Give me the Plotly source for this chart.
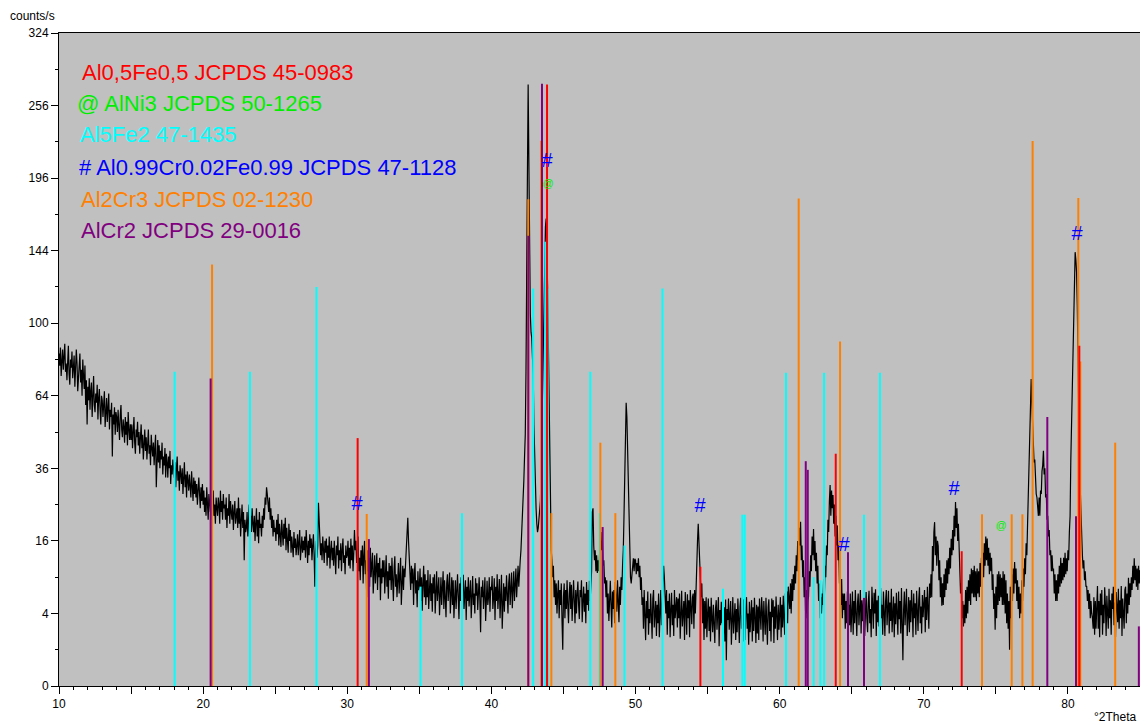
import numpy as np
import plotly.graph_objects as go

# ---------------- measured pattern (counts/s), 2Theta step 0.05 deg from 10.00 ----------------
cps_10_15 = [84, 78, 87, 73, 80, 86, 76, 82, 89, 75,
             79, 71, 83, 88, 74, 69, 81, 77, 85, 72,
             77, 83, 68, 74, 86, 79, 66, 72, 80, 84,
             70, 76, 64, 81, 73, 67, 78, 60, 71, 52,
             68, 62, 72, 58, 66, 70, 55, 64, 73, 60,
             57, 65, 61, 69, 54, 63, 67, 58, 52, 64,
             62, 55, 59, 66, 51, 57, 63, 53, 60, 65,
             50, 58, 55, 61, 40, 56, 52, 59, 48, 57,
             55, 49, 58, 52, 46, 56, 60, 50, 47, 54,
             51, 45, 55, 48, 53, 44, 57, 50, 46, 52]
cps_15_20 = [46, 52, 43, 49, 55, 45, 41, 50, 47, 53,
             44, 49, 41, 47, 52, 43, 48, 39, 46, 50,
             42, 47, 39, 45, 50, 41, 44, 37, 48, 43,
             40, 45, 37, 43, 48, 30, 41, 46, 38, 44,
             36, 42, 39, 45, 34, 40, 37, 43, 33, 41,
             38, 33, 40, 36, 42, 31, 37, 34, 39, 35,
             33, 38, 30, 36, 40, 32, 35, 29, 37, 34,
             31, 36, 28, 33, 38, 30, 34, 27, 35, 32,
             29, 34, 31, 27, 35, 30, 26, 33, 28, 32,
             27, 31, 25, 29, 33, 28, 24, 30, 26, 31]
cps_20_25 = [25, 29, 23, 27, 22, 30, 24, 21, 28, 26,
             23, 28, 21, 26, 29, 22, 25, 20, 27, 24,
             22, 27, 25, 20, 29, 23, 26, 21, 28, 24,
             25, 21, 27, 19, 24, 22, 28, 20, 26, 23,
             21, 25, 18.5, 23, 26, 20, 22, 24, 19, 27,
             20, 24, 17, 22, 25, 19, 23, 12, 21, 18,
             19, 23, 17, 21, 25, 16, 22, 18, 24, 20,
             18, 22, 16, 20, 24, 17, 21, 15.5, 23, 19,
             20, 17, 22, 19, 24, 21, 27, 25, 30, 28,
             26, 23, 27, 21, 24, 19, 22, 17, 21, 18]
cps_25_30 = [19, 16, 21, 17.5, 22.5, 15, 20, 17, 14.7, 21,
             18, 15, 20, 16.5, 21.5, 14, 19, 17, 13.5, 20,
             16, 18.5, 13.5, 17, 15, 12.6, 18, 14.5, 16.5, 13,
             15, 17.5, 13, 16, 18.5, 12, 15.5, 17, 13.5, 16,
             14, 17, 12.5, 18.5, 15, 11.5, 16, 13, 17.5, 14.5,
             16.5, 12, 15, 17.5, 13, 7.5, 14, 16, 12.5, 15,
             25.5, 19, 16, 13, 15.5, 12, 17, 14, 11.5, 16,
             13.5, 16.5, 11, 15, 12.5, 17, 10.5, 14, 16, 12,
             14.5, 11, 16, 12.5, 9.5, 15, 13, 17, 10.5, 14,
             12, 15.5, 10, 14, 16.5, 11.5, 13, 9.5, 15, 12.5]
cps_30_35 = [13, 16, 11, 14.5, 10.5, 16.5, 12, 15, 10, 13.5,
             18.5, 14, 16, 11.5, 13, 17, 10, 12.5, 8.5, 14,
             11, 15, 8, 13, 16, 9.5, 12, 6, 14, 10,
             12.5, 7.5, 14.5, 9, 11, 13.5, 6.5, 10, 13, 8,
             10, 13.4, 7, 11.5, 9, 12.5, 5.6, 10.5, 8, 12,
             9, 12, 6.5, 11, 13, 7.5, 10, 5.8, 11.5, 8.5,
             11, 7, 12.5, 8.5, 5.5, 10.5, 12.8, 7.5, 9.5, 6,
             8.5, 11.5, 6.5, 10, 12.5, 5, 9, 11, 7, 10.5,
             9, 12, 14, 18, 21.5, 16, 12.5, 10, 7, 11,
             8, 10.5, 5, 9.5, 11.5, 6.5, 8.5, 4.7, 10, 7]
cps_35_40 = [7.5, 10.5, 5.5, 9, 4.3, 8, 11, 6, 9.5, 5,
             8.5, 6, 10.2, 4.5, 7.5, 9.5, 5.5, 8, 4.2, 9,
             6.5, 9.5, 4, 8, 10, 5.5, 7, 9, 3.8, 7.5,
             9, 5, 7.5, 10, 4.5, 8.5, 6, 3.6, 8, 9.5,
             5.5, 8, 9.8, 4, 7, 9, 5, 8.5, 3.5, 7.5,
             8.5, 4.5, 7, 9.5, 6, 3.4, 8, 5.5, 9, 6.5,
             7, 9.4, 4.5, 6.5, 8.5, 3.3, 7.5, 5.5, 9, 4.8,
             6, 8.5, 3.5, 7.5, 9.2, 5, 6.5, 4, 8.8, 6.2,
             8, 4.4, 7, 9, 5.5, 2.2, 7.5, 6, 8.5, 4.5,
             6.5, 9, 3.2, 7, 8.4, 5, 6, 9, 4.2, 7.5]
cps_40_45 = [7, 9.2, 4.5, 6, 8.8, 3.3, 7.5, 5.5, 9.5, 4.5,
             6.5, 8.7, 3.5, 7, 9.4, 2.5, 6, 8, 4.2, 7.5,
             5.5, 9.3, 6.5, 4, 8, 9.6, 5, 7.5, 9.8, 4.6,
             7, 10, 5.5, 8.5, 10.5, 6, 9, 11, 7.5, 11.7,
             12, 14, 17, 21, 26, 32, 40, 48, 75, 110,
             200, 275, 190, 140, 105, 95, 92, 82, 74, 52,
             38, 30, 24, 20, 18, 19, 22, 24, 26, 35,
             50, 56, 85, 120, 140, 160, 166, 150, 120, 90,
             62, 40, 22, 14, 12, 9, 11, 6, 8.5, 5,
             8, 4, 6.5, 8.5, 3.5, 7, 5, 8, 3.2, 1]
cps_45_50 = [6, 8, 3.5, 7, 4.5, 8.5, 5, 3, 6.5, 8.2,
             4.5, 7.8, 3.2, 6, 8.5, 5.5, 3, 7, 4, 6.5,
             8.3, 5, 3.4, 7, 6, 8.5, 3.1, 5.5, 7.5, 4.2,
             6.5, 3, 8.2, 5, 7, 4.3, 8.4, 5.5, 9, 10,
             23, 24, 15, 12, 14, 10, 13, 9.7, 12, 10,
             13, 16, 18, 14, 16, 11, 12, 8, 9, 6,
             8.5, 4, 6.5, 3.2, 7, 8.4, 5, 2.6, 6.8, 4.5,
             7, 3, 8.2, 5.5, 4.2, 8.5, 6, 3.1, 7.5, 5,
             9, 7, 11, 14, 22, 35, 52, 61, 55, 42,
             28, 18, 12, 9, 8, 10, 11.5, 12.4, 10, 12.3]
cps_50_55 = [12, 9.5, 11.5, 10, 12.4, 9, 11, 7, 9, 5,
             6, 2.5, 7, 4, 1.6, 5.5, 3.5, 6.8, 2, 4.5,
             3, 6.5, 4.5, 1.7, 5.8, 7, 2.6, 4, 5.5, 1.9,
             5, 3, 6.5, 1.8, 4.5, 7, 2.8, 6, 9, 11,
             9, 6, 4, 7, 2, 5.5, 3.5, 6.5, 1.8, 4.5,
             6.6, 2.8, 5, 1.9, 7, 3.5, 4.5, 6, 2.6, 5.8,
             3.5, 6.5, 1.7, 5, 6.9, 2.7, 4, 5.5, 1.6, 6.7,
             4.5, 2, 6.4, 3.5, 5.6, 1.8, 7, 4, 2.9, 6,
             6.5, 2.5, 7, 4, 9, 11, 16, 20, 15, 12,
             10, 6, 8, 3, 5.8, 1.6, 5.5, 2.5, 6, 1.8]
cps_55_60 = [4, 5.8, 2.3, 4.8, 1.5, 5.9, 3.5, 2.2, 5, 3,
             1.4, 4.6, 5.6, 2.4, 3.5, 6, 1.2, 4.4, 2.8, 5.4,
             3, 5.9, 2, 4.7, 1.5, 5.7, 0.5, 4.5, 3.3, 5.8,
             2.4, 4, 5.5, 1.3, 3.6, 6, 2.1, 4.6, 5.2, 1.6,
             4.5, 2.2, 5.8, 3.4, 1.4, 4.8, 5.9, 2.5, 3.8, 1.5,
             5.7, 3, 1.6, 4.6, 6, 2.5, 4, 1.3, 5.4, 2.2,
             3.2, 5.6, 1.5, 4.7, 2.3, 5.9, 3.6, 1.4, 5, 2.1,
             4.8, 1.6, 5.8, 3, 2.4, 6, 4.2, 1.5, 5.5, 3.4,
             2, 5.9, 3.5, 1.3, 4.7, 5.7, 2.3, 4.2, 1.5, 5.8,
             3.6, 5.6, 1.4, 4.8, 2.5, 6.1, 3.8, 1.6, 5, 2.4]
cps_60_65 = [4, 6, 1.8, 5, 2.6, 6.2, 3.5, 2, 6.5, 4.5,
             6.8, 3, 7.5, 5, 4.5, 8, 4, 8.7, 5.5, 9.5,
             7, 11, 8, 13, 10, 16, 12, 19, 15, 20.5,
             12, 15, 9, 12, 6, 9, 4, 7, 3.5, 5.5,
             6, 10, 7.5, 13, 10, 17, 13, 18.7, 12, 16,
             10, 13.5, 8, 11, 5.5, 8, 3.5, 6, 4, 6.5,
             5, 8.7, 6, 11, 9, 15, 13, 21, 18, 26,
             30.7, 22, 29, 24, 27.7, 20, 25, 17, 22, 15,
             19.6, 12, 15, 8, 10, 5, 8.7, 3.5, 6.5, 4.4,
             6.5, 2.5, 5.5, 3, 6.8, 2, 5, 2.8, 6.5, 2.2]
cps_65_70 = [4.5, 6.8, 2, 5.5, 3, 7, 4, 1.9, 5.2, 6.5,
             2.8, 4.5, 7, 2.1, 5.6, 3.2, 6, 7.2, 1.9, 4.8,
             6.7, 3.5, 2.2, 5.4, 6.9, 3, 4.5, 1.8, 7.5, 5,
             2.5, 6.6, 4, 7.1, 1.9, 5.6, 3.1, 6.2, 2.7, 4.6,
             7.3, 3.5, 5, 2, 6.8, 4.2, 1.9, 5.5, 7, 2.8,
             4.5, 6.9, 2.1, 5.3, 3.2, 7.2, 2.2, 4.8, 6.1, 1.8,
             5.2, 2.9, 6.6, 4, 2, 6.8, 3.4, 5.5, 2.1, 7.3,
             3, 0.5, 4.5, 6.8, 2.8, 5.4, 7.2, 1.9, 4.2, 6,
             2.2, 5.6, 3.1, 7, 4.5, 1.8, 6.5, 3.5, 5.2, 2,
             6.9, 4, 2.3, 5.7, 7.4, 3, 4.8, 2.1, 6.3, 3.6]
cps_70_75 = [5, 7, 2.2, 6, 3.3, 7.5, 4.5, 2.5, 8, 5.9,
             9.5, 6, 14.9, 10, 18, 20.4, 13, 17, 11, 16,
             14.9, 8.5, 12, 6, 9, 4.9, 8, 5, 9.5, 6,
             10.5, 7, 12, 8, 12.4, 9.5, 14.5, 10.5, 16.5, 13,
             18.5, 14, 22, 17, 25.7, 19, 24, 16, 20, 13,
             12, 6.5, 8, 3.5, 5.5, 2.7, 5, 3, 7, 3.5,
             7.5, 4, 8.5, 5.5, 9.5, 5, 10.5, 6.5, 10.2, 6,
             11, 6, 10, 5.5, 10.5, 6.5, 10, 6, 11.5, 7.5,
             12.5, 8, 13.5, 9, 15.5, 11, 17, 12, 16.5, 11,
             14.5, 9.5, 13.5, 10, 12.5, 7, 9.5, 4.5, 6.5, 2.4]
cps_75_80 = [7.5, 3.5, 9.5, 5, 10, 5.5, 9.5, 6, 8.9, 5,
             10, 5, 9.5, 4, 8.5, 3, 6.5, 2.5, 5.5, 1,
             7.5, 3.5, 9.5, 5.5, 10.5, 6.5, 11.7, 8, 10.5, 5.5,
             8.5, 4.5, 7.5, 3.5, 6.5, 4, 8.5, 5.5, 10.5, 7.5,
             12.4, 9.5, 15.5, 13, 20, 26.9, 33, 48, 60, 71.6,
             60, 50, 47, 38, 39, 29, 28, 27, 25, 22,
             27, 22, 29, 28, 35, 37, 42, 34, 36, 27,
             28, 21, 22, 17, 18.5, 13, 14, 10, 13, 10,
             10.5, 6.5, 9.5, 5.5, 8.5, 5.5, 9.5, 6.5, 11, 7.5,
             12.5, 8, 11.5, 8.5, 12.5, 9, 13.5, 9.5, 12.4, 10]
cps_80_85 = [14, 12, 18, 22, 39, 50, 62, 75, 95, 120,
             143, 138, 130, 110, 71.6, 55, 37.9, 30, 22, 17,
             13.2, 10.5, 12, 8.5, 10, 7.5, 7.6, 5.5, 7, 4.5,
             6.5, 3.5, 5.5, 4, 3.5, 2.5, 6, 2, 5.5, 2.5,
             4.5, 7.6, 2.5, 5.5, 1.8, 6.5, 3.8, 7, 2, 5,
             3, 7.4, 5, 1.9, 6.2, 4, 2.5, 7.2, 3.5, 5.6,
             2, 6.5, 4.5, 7.5, 2.8, 5.3, 1.8, 6.7, 4, 3.1,
             7.2, 2.5, 5.6, 3.5, 7.6, 1.9, 5.8, 4, 2.5, 7,
             7.5, 3, 6.5, 4, 8.9, 5, 8, 6, 9, 7,
             11, 8, 12.4, 8.5, 11, 7.5, 10.5, 7, 11, 8,
             10.2]

# ---------------- reference patterns (stick positions and intensities, counts/s) ----------------
red_pos = [30.72, 43.86, 54.50, 63.89, 72.63, 80.79]
red_int = [46.7, 275, 10.8, 41, 13.8, 88]
cyan_pos = [18.02, 23.25, 27.86, 35.08, 37.96, 42.90, 43.74, 43.90, 46.86, 47.51, 49.23,
            51.87, 56.07, 57.41, 57.57, 60.44, 62.36, 62.82, 63.08, 65.85, 66.96]
cyan_int = [75, 75, 121, 7.5, 22.7, 120, 150, 120, 75, 22.7, 15,
            120, 7.2, 22.3, 22.3, 74.5, 9, 8.5, 74.5, 22.3, 74.5]
orange_pos = [20.62, 31.35, 42.56, 43.44, 44.16, 47.56, 48.60, 61.32, 64.19, 74.04,
              76.10, 76.84, 77.55, 80.72, 80.86, 83.28]
orange_int = [135, 22.5, 180, 226, 22.7, 45, 22.7, 180.6, 90.2, 22.4,
              22.4, 22.4, 225.7, 181, 80, 45]
purple_pos = [20.52, 31.50, 42.56, 43.51, 47.72, 61.81, 61.95, 64.74, 65.85, 78.57, 80.56, 84.92]
purple_int = [71.9, 16.4, 154, 275.6, 19.2, 38.4, 35.5, 13.6, 5.9, 55, 21.9, 2.7]

hash_pos = [30.68, 43.86, 54.47, 64.46, 72.10, 80.63]
hash_cps = [24.9, 208.5, 24.3, 14.9, 29.2, 154.5]
at_pos = [43.93, 75.36]
at_cps = [191.5, 19.4]

legend_texts = ["Al0,5Fe0,5 JCPDS 45-0983", "@ AlNi3 JCPDS 50-1265", "Al5Fe2 47-1435",
                "# Al0.99Cr0.02Fe0.99 JCPDS 47-1128", "Al2Cr3 JCPDS 02-1230", "AlCr2 JCPDS 29-0016"]
legend_colors = ["#FF0000", "#00EE00", "#00FFFF", "#0000FF", "#FF8000", "#800080"]

y_tick_labels = [0, 4, 16, 36, 64, 100, 144, 196, 256, 324]
y_minor_labels = [1, 9, 25, 49, 81, 121, 169, 225, 289]
x_tick_vals = [10, 15, 20, 25, 30, 35, 40, 45, 50, 55, 60, 65, 70, 75, 80, 85]
x_tick_text = ["10", "", "20", "", "30", "", "40", "", "50", "", "60", "", "70", "", "80", ""]

# ---------------- figure ----------------
counts = (cps_10_15 + cps_15_20 + cps_20_25 + cps_25_30 + cps_30_35 + cps_35_40 + cps_40_45
          + cps_45_50 + cps_50_55 + cps_55_60 + cps_60_65 + cps_65_70 + cps_70_75 + cps_75_80
          + cps_80_85)
two_theta = np.round(10.0 + 0.05 * np.arange(len(counts)), 3)
sq = np.sqrt(np.array(counts, dtype=float))   # square-root intensity scale

FONT = "Liberation Sans, Arial, sans-serif"
fig = go.Figure()
fig.add_trace(go.Scatter(x=two_theta, y=sq, mode="lines",
                         line=dict(color="black", width=1.2), hoverinfo="skip"))


def sticks(pos, inten, color):
    xs, ys = [], []
    for p, v in zip(pos, inten):
        xs += [p, p, None]
        ys += [0, float(np.sqrt(v)), None]
    fig.add_trace(go.Scatter(x=xs, y=ys, mode="lines",
                             line=dict(color=color, width=2), hoverinfo="skip"))


sticks(cyan_pos, cyan_int, "#00FFFF")
sticks(orange_pos, orange_int, "#FF8000")
sticks(purple_pos, purple_int, "#800080")
sticks(red_pos, red_int, "#FF0000")

fig.add_trace(go.Scatter(x=hash_pos, y=np.sqrt(hash_cps), mode="text", text=["#"] * len(hash_pos),
                         textposition="middle center",
                         textfont=dict(family=FONT, size=20, color="#0000FF")))
fig.add_trace(go.Scatter(x=at_pos, y=np.sqrt(at_cps), mode="text", text=["@"] * len(at_pos),
                         textposition="middle center",
                         textfont=dict(family=FONT, size=11, color="#00EE00")))

# The page body has an 8 px margin, so the figure is drawn 8 px in from the window corner.
OFF = 8
FIG_W, FIG_H = 1148 - OFF, 725 - OFF
L, T, W, H = 59 - OFF, 33 - OFF, 1081, 653     # plot area in figure pixels

leg_left_px = [80, 75, 78, 77, 79, 79]
leg_mid_px = [73, 104, 134, 167, 200, 231]
for txt, col, lx, ly in zip(legend_texts, legend_colors, leg_left_px, leg_mid_px):
    fig.add_annotation(xref="paper", yref="paper", x=(lx - OFF - L) / W, y=(T + H - (ly - OFF)) / H,
                       text=txt, showarrow=False, xanchor="left", yanchor="middle",
                       font=dict(family=FONT, size=22, color=col))

fig.add_annotation(xref="paper", yref="paper", x=(8 - OFF - L) / W, y=(T + H - (16 - OFF)) / H,
                   text="counts/s", showarrow=False, xanchor="left", yanchor="middle",
                   font=dict(family=FONT, size=12, color="black"))
fig.add_annotation(xref="paper", yref="paper", x=(1138 - OFF - L) / W, y=(T + H - (717 - OFF)) / H,
                   text="°2Theta", showarrow=False, xanchor="right", yanchor="middle",
                   font=dict(family=FONT, size=12, color="black"))

fig.update_layout(
    width=FIG_W, height=FIG_H, autosize=False,
    margin=dict(l=L, r=FIG_W - L - W, t=T, b=FIG_H - T - H),
    paper_bgcolor="white", plot_bgcolor="#C0C0C0",
    showlegend=False,
    font=dict(family=FONT, size=12, color="black"),
)
fig.update_xaxes(range=[10, 85], tickmode="array", tickvals=x_tick_vals, ticktext=x_tick_text,
                 ticks="outside", ticklen=7, tickwidth=1, tickcolor="black",
                 minor=dict(tickmode="linear", tick0=10, dtick=1, ticks="outside", ticklen=3,
                            tickcolor="black", showgrid=False),
                 showgrid=False, zeroline=False, showline=True, linecolor="black",
                 linewidth=1, mirror=True, tickfont=dict(size=12))
fig.update_yaxes(range=[0, 18], tickmode="array", tickvals=np.sqrt(y_tick_labels),
                 ticktext=[str(v) for v in y_tick_labels],
                 ticks="outside", ticklen=7, tickwidth=1, tickcolor="black",
                 minor=dict(tickmode="array", tickvals=np.sqrt(y_minor_labels), ticks="outside",
                            ticklen=3, tickcolor="black", showgrid=False),
                 showgrid=False, zeroline=False, showline=True, linecolor="black",
                 linewidth=1, mirror=True, tickfont=dict(size=12))

fig.write_html("out.html")
